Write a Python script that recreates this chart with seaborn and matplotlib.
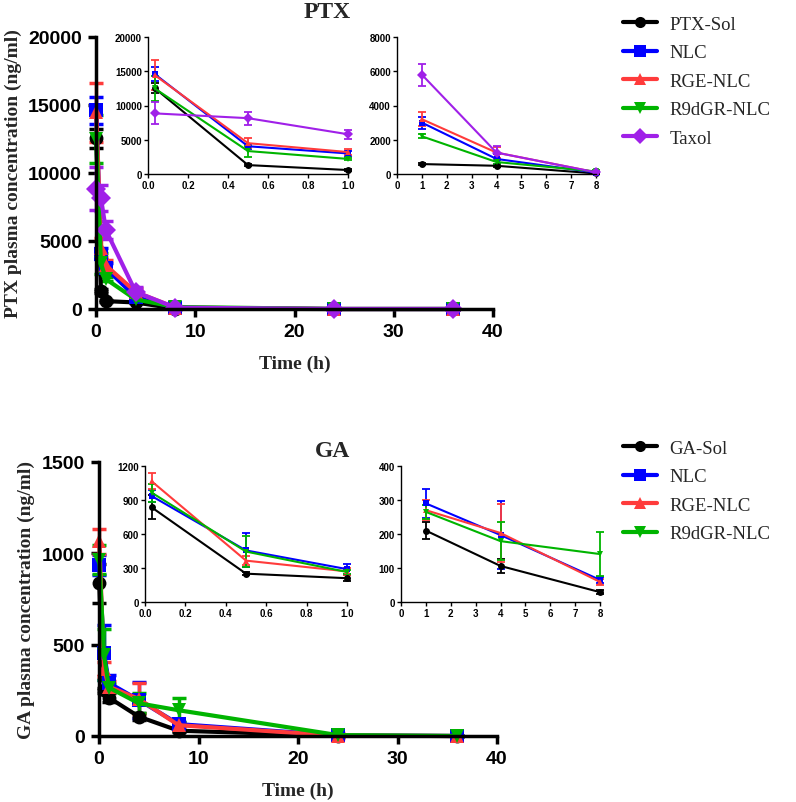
import numpy as np
import pandas as pd
import matplotlib
matplotlib.use("Agg")
import matplotlib.pyplot as plt
from matplotlib.lines import Line2D
import seaborn as sns

# sampling times (h)
times = [0.033, 0.5, 1, 4, 8, 24, 36]

# PTX plasma concentration (ng/ml), mean and SD
ptx_groups = ["PTX-Sol", "NLC", "RGE-NLC", "R9dGR-NLC", "Taxol"]
ptx_sol = [12550, 1300, 580, 480, 30, 0, 0]
ptx_sol_sd = [700, 150, 80, 60, 20, 0, 0]
ptx_nlc = [14600, 4050, 3000, 880, 80, 0, 0]
ptx_nlc_sd = [1000, 400, 350, 300, 40, 0, 0]
ptx_rge = [14450, 4500, 3200, 1250, 100, 0, 0]
ptx_rge_sd = [2200, 700, 420, 300, 50, 0, 0]
ptx_r9 = [12500, 3350, 2200, 700, 150, 0, 0]
ptx_r9_sd = [1800, 800, 120, 120, 60, 0, 0]
ptx_taxol = [8850, 8150, 5800, 1250, 100, 0, 0]
ptx_taxol_sd = [1600, 950, 650, 380, 50, 0, 0]

# GA plasma concentration (ng/ml), mean and SD
ga_groups = ["GA-Sol", "NLC", "RGE-NLC", "R9dGR-NLC"]
ga_sol = [835, 250, 210, 106, 29, 2, 0]
ga_sol_sd = [105, 15, 25, 20, 6, 1, 0]
ga_nlc = [935, 455, 290, 197, 65, 3, 0]
ga_nlc_sd = [55, 150, 42, 100, 10, 3, 0]
ga_rge = [1065, 365, 270, 203, 59, 2, 0]
ga_rge_sd = [70, 40, 30, 85, 10, 15, 0]
ga_r9 = [965, 445, 265, 179, 141, 5, 0]
ga_r9_sd = [80, 140, 20, 55, 65, 3, 0]

colors = ["#000000", "#0000FF", "#FF3B3B", "#00B400", "#A020E8"]
marks = ["o", "s", "^", "v", "D"]

sans = ["Liberation Sans", "DejaVu Sans"]
serif = ["Liberation Serif", "DejaVu Serif"]

sns.set_theme(style="ticks")
plt.rcParams["font.family"] = sans


def long_df(groups, means):
    rows = []
    for g, m in zip(groups, means):
        for t, v in zip(times, m):
            rows.append({"time": t, "conc": v, "group": g})
    return pd.DataFrame(rows)


def style_axes(ax, big):
    lw = 2.5 if big else 1.0
    for s in ["top", "right"]:
        ax.spines[s].set_visible(False)
    for s in ["left", "bottom"]:
        ax.spines[s].set_linewidth(lw)
        ax.spines[s].set_color("black")
    ax.tick_params(direction="out", length=6 if big else 3, width=lw,
                   labelsize=14 if big else 7, colors="black", pad=4 if big else 1.5)
    for lab in ax.get_xticklabels() + ax.get_yticklabels():
        lab.set_fontweight("bold")
        lab.set_family(sans)
    ax.set_facecolor("none")
    ax.grid(False)


def draw(ax, groups, means, sds, big, tmin, tmax):
    df = long_df(groups, means)
    df = df[(df["time"] >= tmin) & (df["time"] <= tmax)]
    pal = dict(zip(groups, colors))
    mk = dict(zip(groups, marks))
    sns.lineplot(data=df, x="time", y="conc", hue="group", style="group",
                 palette=pal, markers=mk, dashes=False, ax=ax, legend=False,
                 errorbar=None, linewidth=3 if big else 1.5,
                 markersize=10 if big else 5, markeredgewidth=0, sort=False)
    for g, m, s in zip(groups, means, sds):
        t = np.array(times)
        keep = (t >= tmin) & (t <= tmax)
        ax.errorbar(t[keep], np.array(m)[keep], yerr=np.array(s)[keep], fmt="none",
                    ecolor=pal[g], elinewidth=2.5 if big else 1.3,
                    capsize=5 if big else 3, capthick=2.5 if big else 1.3, zorder=1)
    for art in ax.lines + ax.collections:
        art.set_clip_on(False)


W, H = 796, 803
fig = plt.figure(figsize=(W / 100, H / 100), dpi=100)


def box(l, t, r, b):
    return [l / W, 1 - b / H, (r - l) / W, (b - t) / H]


panels = [
    dict(groups=ptx_groups,
         means=[ptx_sol, ptx_nlc, ptx_rge, ptx_r9, ptx_taxol],
         sds=[ptx_sol_sd, ptx_nlc_sd, ptx_rge_sd, ptx_r9_sd, ptx_taxol_sd],
         main=box(96, 38, 493, 310), in1=box(148, 38, 348, 175), in2=box(397, 38, 596, 175),
         ymax=20000, yt=[0, 5000, 10000, 15000, 20000],
         y1=20000, yt1=[0, 5000, 10000, 15000, 20000],
         y2=8000, yt2=[0, 2000, 4000, 6000, 8000],
         title="PTX", title_xy=(327, 12), ylabel="PTX plasma concentration (ng/ml)",
         ylab_x=13, xlab_y=364, leg_y=0),
    dict(groups=ga_groups,
         means=[ga_sol, ga_nlc, ga_rge, ga_r9],
         sds=[ga_sol_sd, ga_nlc_sd, ga_rge_sd, ga_r9_sd],
         main=box(99, 463, 497, 737), in1=box(145, 467, 347, 603), in2=box(401, 467, 600, 603),
         ymax=1500, yt=[0, 500, 1000, 1500],
         y1=1200, yt1=[0, 300, 600, 900, 1200],
         y2=400, yt2=[0, 100, 200, 300, 400],
         title="GA", title_xy=(333, 452), ylabel="GA plasma concentration (ng/ml)",
         ylab_x=26, xlab_y=791, leg_y=424),
]

for p in panels:
    ax = fig.add_axes(p["main"])
    draw(ax, p["groups"], p["means"], p["sds"], True, 0, 40)
    ax.set_xlim(0, 40)
    ax.set_ylim(0, p["ymax"])
    ax.set_xticks([0, 10, 20, 30, 40])
    ax.set_yticks(p["yt"])
    ax.set_xlabel("")
    ax.set_ylabel("")
    style_axes(ax, True)

    a1 = fig.add_axes(p["in1"])
    draw(a1, p["groups"], p["means"], p["sds"], False, 0, 1.0)
    a1.set_xlim(0, 1.0)
    a1.set_ylim(0, p["y1"])
    a1.set_xticks([0, 0.2, 0.4, 0.6, 0.8, 1.0])
    a1.set_xticklabels(["0.0", "0.2", "0.4", "0.6", "0.8", "1.0"])
    a1.set_yticks(p["yt1"])
    a1.set_xlabel("")
    a1.set_ylabel("")
    style_axes(a1, False)

    a2 = fig.add_axes(p["in2"])
    draw(a2, p["groups"], p["means"], p["sds"], False, 1, 8)
    a2.set_xlim(0, 8)
    a2.set_ylim(0, p["y2"])
    a2.set_xticks(range(9))
    a2.set_yticks(p["yt2"])
    a2.set_xlabel("")
    a2.set_ylabel("")
    style_axes(a2, False)

    fig.text(p["title_xy"][0] / W, 1 - p["title_xy"][1] / H, p["title"], family=serif,
             fontsize=17, fontweight="bold", ha="center", va="center")
    cy = p["main"][1] + p["main"][3] / 2
    fig.text(p["ylab_x"] / W, cy, p["ylabel"], family=serif, fontsize=14,
             fontweight="bold", rotation=90, ha="center", va="center")
    cx = p["main"][0] + p["main"][2] / 2
    fig.text(cx, 1 - p["xlab_y"] / H, "Time (h)", family=serif, fontsize=14,
             fontweight="bold", ha="center", va="center")

    handles = [Line2D([0], [0], color=c, marker=m, lw=3, markersize=8, markeredgewidth=0)
               for c, m in zip(colors, marks)]
    fig.legend(handles[:len(p["groups"])], p["groups"], loc="upper left",
               bbox_to_anchor=(606 / W, 1 - p["leg_y"] / H), frameon=False,
               prop={"family": serif, "size": 13.5}, handlelength=1.8,
               labelspacing=0.6, handletextpad=0.7)

fig.savefig("out.png", dpi=100)
